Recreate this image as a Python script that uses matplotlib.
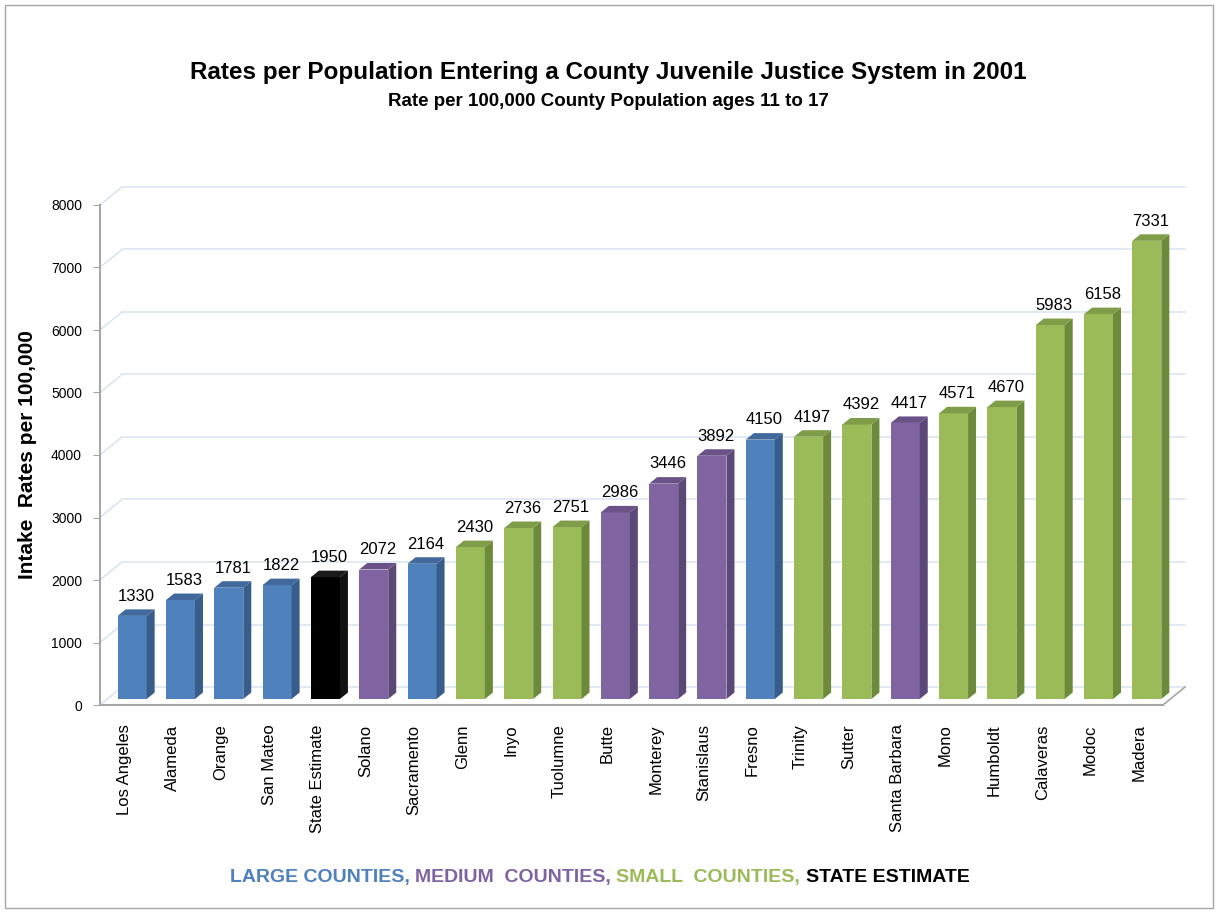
import matplotlib.pyplot as plt
from matplotlib.patches import Polygon, Rectangle

# données
comtes = ['Los Angeles', 'Alameda', 'Orange', 'San Mateo', 'State Estimate', 'Solano',
          'Sacramento', 'Glenn', 'Inyo', 'Tuolumne', 'Butte', 'Monterey', 'Stanislaus',
          'Fresno', 'Trinity', 'Sutter', 'Santa Barbara', 'Mono', 'Humboldt', 'Calaveras',
          'Modoc', 'Madera']
taux = [1330, 1583, 1781, 1822, 1950, 2072, 2164, 2430, 2736, 2751, 2986, 3446, 3892,
        4150, 4197, 4392, 4417, 4571, 4670, 5983, 6158, 7331]
taille = ['large', 'large', 'large', 'large', 'state', 'medium', 'large', 'small', 'small',
          'small', 'medium', 'medium', 'medium', 'large', 'small', 'small', 'medium',
          'small', 'small', 'small', 'small', 'small']
y_ticks = [0, 1000, 2000, 3000, 4000, 5000, 6000, 7000, 8000]

# couleurs : face avant, côté, dessus
couleurs = {
    'large': ('#4f81bd', '#385d8a', '#41699c'),
    'medium': ('#8064a2', '#5c4877', '#6a5288'),
    'small': ('#9bbb59', '#6d8a3a', '#7f9c48'),
    'state': ('#000000', '#111111', '#1a1a1a'),
}

plt.rcParams['font.family'] = ['Liberation Sans', 'DejaVu Sans']

W, H = 1216, 913
fig = plt.figure(figsize=(W / 100, H / 100), dpi=100)

# position de l'axe (plan avant) en pixels
left_px, right_px, bot_px, top_px = 100, 1163, 705, 205
ax = fig.add_axes([left_px / W, (H - bot_px) / H, (right_px - left_px) / W, (bot_px - top_px) / H])
n = len(comtes)
ax.set_xlim(-0.5, n - 0.5)
ax.set_ylim(0, 8000)

# conversion pixels -> unités de données
ux = n / (right_px - left_px)
uy = 8000 / (bot_px - top_px)

# profondeur du mur du fond et des barres
back_dx, back_dy = 22 * ux, 18 * uy
bar_dx, bar_dy = 8 * ux, 6 * uy
side_dx, side_dy = 8 * ux, 6.5 * uy
w = 0.6

grid_col = '#dbe5f1'
edge_col = '#a6a6a6'

# grille sur le mur du fond + mur gauche
for v in y_ticks:
    ax.plot([-0.5 + back_dx, n - 0.5 + back_dx], [v + back_dy, v + back_dy],
            color=grid_col, lw=1.2, clip_on=False, zorder=1)
    ax.plot([-0.5, -0.5 + back_dx], [v, v + back_dy], color=grid_col, lw=1.2,
            clip_on=False, zorder=1)

# sol
ax.plot([-0.5, n - 0.5], [0, 0], color=edge_col, lw=1.5, clip_on=False, zorder=2)
ax.plot([n - 0.5, n - 0.5 + back_dx], [0, back_dy], color=edge_col, lw=1.2,
        clip_on=False, zorder=2)

# barres (face avant + côté + dessus)
for i, (v, t) in enumerate(zip(taux, taille)):
    front, side, top = couleurs[t]
    xl = i - w / 2 + bar_dx
    xr = i + w / 2 + bar_dx
    ax.bar(i + bar_dx, v, width=w, bottom=bar_dy, color=front, zorder=3, clip_on=False)
    ax.add_patch(Polygon([(xr, bar_dy), (xr + side_dx, bar_dy + side_dy),
                          (xr + side_dx, bar_dy + v + side_dy), (xr, bar_dy + v)],
                         closed=True, facecolor=side, edgecolor='none', zorder=3, clip_on=False))
    ax.add_patch(Polygon([(xl, bar_dy + v), (xr, bar_dy + v),
                          (xr + side_dx, bar_dy + v + side_dy), (xl + side_dx, bar_dy + v + side_dy)],
                         closed=True, facecolor=top, edgecolor='none', zorder=3, clip_on=False))
    ax.text(i + bar_dx + side_dx / 2, bar_dy + v + side_dy + 90, str(v),
            ha='center', va='bottom', fontsize=12, zorder=4)

# axes
for s in ['top', 'right', 'bottom']:
    ax.spines[s].set_visible(False)
ax.spines['left'].set_color(edge_col)
ax.spines['left'].set_linewidth(1.5)
ax.set_yticks(y_ticks)
ax.set_yticklabels([str(v) for v in y_ticks])
ax.tick_params(axis='y', direction='out', length=5, color=edge_col, labelsize=10, pad=8)
ax.set_xticks(range(n))
ax.set_xticklabels(comtes, rotation=90, fontsize=12)
ax.tick_params(axis='x', length=0, pad=14)
ax.patch.set_alpha(0)

ax.set_ylabel('Intake  Rates per 100,000', fontsize=15, fontweight='bold', labelpad=10)

# titres
fig.text(0.5, 1 - 72 / H, 'Rates per Population Entering a County Juvenile Justice System in 2001',
         ha='center', va='center', fontsize=17.5, fontweight='bold')
fig.text(0.5, 1 - 101 / H, 'Rate per 100,000 County Population ages 11 to 17',
         ha='center', va='center', fontsize=13.5, fontweight='bold')

# légende en couleurs, morceaux chaînés les uns après les autres
morceaux = [('LARGE COUNTIES, ', '#4f81bd'), ('MEDIUM  COUNTIES, ', '#8064a2'),
            ('SMALL  COUNTIES, ', '#9bbb59'), ('STATE ESTIMATE', '#000000')]
prev = fig.text(230 / W, 1 - 877 / H, morceaux[0][0], color=morceaux[0][1], fontsize=14,
                fontweight='bold', va='center', ha='left')
for txt, c in morceaux[1:]:
    prev = ax.annotate(txt, xy=(1, 0), xycoords=prev, xytext=(0, 0), textcoords='offset points',
                       va='bottom', ha='left', color=c, fontsize=14, fontweight='bold',
                       annotation_clip=False)

# cadre
fig.patches.append(Rectangle((5 / W, 5 / H), (1213 - 5) / W, (908 - 5) / H,
                             transform=fig.transFigure, fill=False, edgecolor='#a6a6a6', lw=1))

plt.savefig('out.png', dpi=100)
